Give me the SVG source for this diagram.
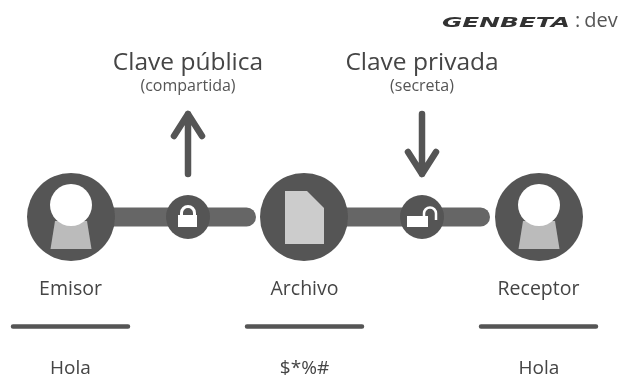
<svg xmlns="http://www.w3.org/2000/svg" width="621" height="375" viewBox="0 0 621 375">
<style>
text{font-family:"Open Sans","Noto Sans",sans-serif;fill:#444;text-anchor:middle}
.t{font-size:24.500px}.s{font-size:16px;fill:#555}.l{font-size:19.500px}.r{font-size:19px}
.hub{fill:#555}.head{fill:#fff}.body{fill:#bbb}
.bar{fill:#666}.rule{stroke:#555;stroke-width:4.500;stroke-linecap:round;fill:none}
.arrow{fill:none;stroke:#555;stroke-width:6.500;stroke-linecap:round;stroke-linejoin:round}
</style>
<defs>
<filter id="b" x="-5%" y="-5%" width="110%" height="110%"><feGaussianBlur stdDeviation="0.7"/></filter>
<g id="person"><circle class="hub" r="44"/><path class="body" d="M-16 4H16L20.500 32H-20.500Z"/><circle class="head" cy="-12" r="21"/></g>
</defs>
<rect width="621" height="375" fill="#fff"/>
<g filter="url(#b)">
<g id="connectors">
<path class="bar" d="M110 207.500H246.500a9.500 9.500 0 0 1 0 19H110Z"/>
<path class="bar" d="M344 207.500H480.500a9.500 9.500 0 0 1 0 19H344Z"/>
<path class="arrow" d="M188 174V114M174 136L188 114L202 136"/>
<path class="arrow" d="M422 114V174M408 152L422 174L436 152"/>
</g>
<g id="emisor"><use href="#person" x="71" y="217"/><text class="l" x="70.500" y="295">Emisor</text></g>
<g id="lock"><circle class="hub" cx="188" cy="217" r="22"/><path d="M181.500 216V213a6.500 6.500 0 0 1 13 0V216" fill="#555" stroke="#fff" stroke-width="3"/><path d="M178 215H197V227H178Z" fill="#fff"/></g>
<g id="archivo"><circle class="hub" cx="304" cy="217" r="44"/><path d="M285 191H307L324 208V244H285Z" fill="#ccc"/><text class="l" x="304.500" y="295">Archivo</text></g>
<g id="unlock"><circle class="hub" cx="422" cy="217" r="22"/><path d="M407 216H428V227H407Z" fill="#fff"/><path d="M424 217V213.500a6 6 0 0 1 12 0V220" fill="none" stroke="#fff" stroke-width="2.500"/></g>
<g id="receptor"><use href="#person" x="539" y="217"/><text class="l" x="538.500" y="295">Receptor</text></g>
<g id="clave-publica"><text class="t" x="188" y="70">Clave pública</text><text class="s" x="188" y="91">(compartida)</text></g>
<g id="clave-privada"><text class="t" x="422" y="70">Clave privada</text><text class="s" x="422" y="91">(secreta)</text></g>
<g id="rules"><path class="rule" d="M13 326.500H128M247 326.500H362M481 326.500H596"/></g>
<g id="results"><text class="r" x="70.500" y="373.500">Hola</text><text class="r" x="304.500" y="373.500">$*%#</text><text class="r" x="539" y="373.500">Hola</text></g>
<g id="logo"><text x="442" y="27" style="font-family:'DejaVu Sans',sans-serif;font-weight:700;font-style:italic;font-size:14px;fill:#333;text-anchor:start" textLength="128" lengthAdjust="spacingAndGlyphs">GENBETA</text><text x="575" y="27" style="font-size:20px;fill:#555;text-anchor:start">:<tspan dx="4">dev</tspan></text></g>
</g>
</svg>
